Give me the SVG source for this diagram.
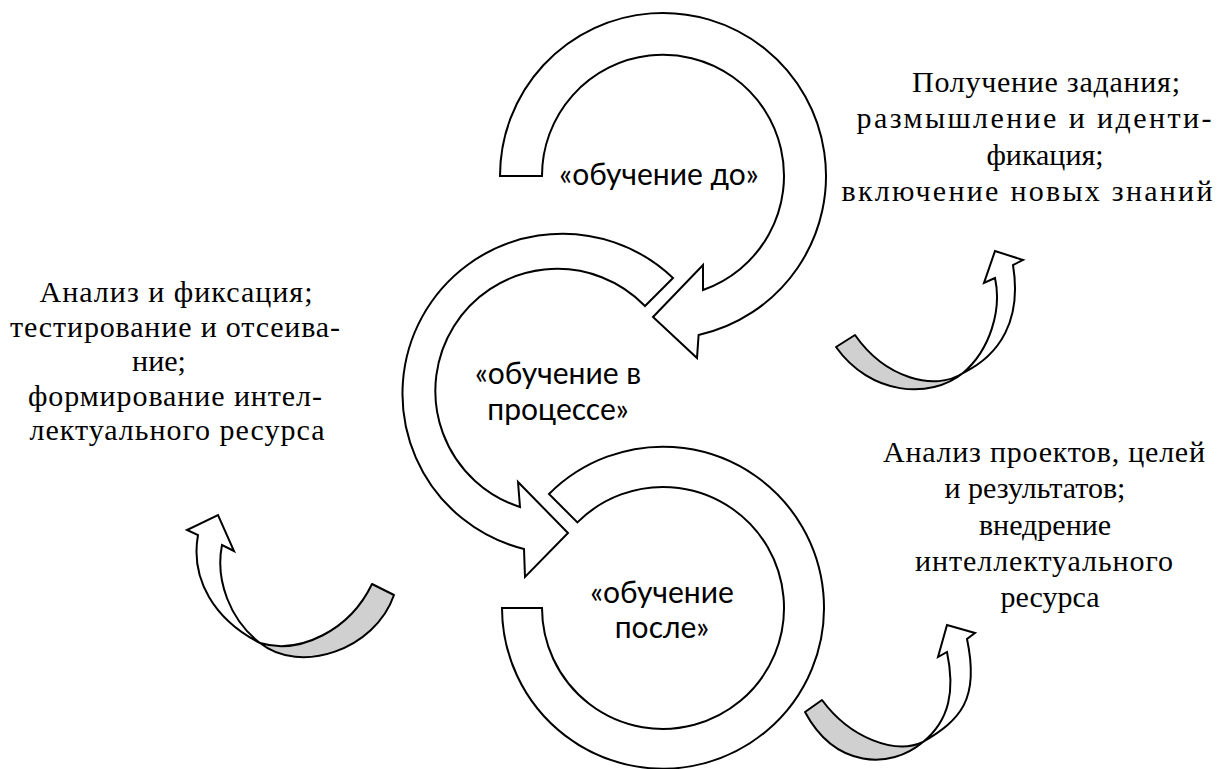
<svg xmlns="http://www.w3.org/2000/svg" width="1222" height="769" viewBox="0 0 1222 769">
<style>
.ring{fill:#ffffff;stroke:#000000;stroke-width:2;stroke-linejoin:miter}
.grey{fill:#d0d0d0;stroke:#000000;stroke-width:2;stroke-linejoin:round}
.white{fill:#ffffff;stroke:#000000;stroke-width:2;stroke-linejoin:miter}
.lbl{font-family:Lato,"Open Sans",sans-serif;font-size:30px;fill:#000000;text-anchor:middle}
.note{font-family:"Liberation Serif","Times New Roman",serif;font-size:30px;fill:#000000;text-anchor:middle}
</style>
<rect width="1222" height="769" fill="#ffffff"/>

<g id="node-before">
<path class="ring" d="M542,176 L500,176 A163,163 0 1 1 698.6,335 L697,358 L653,317 L703,265 L703,290 A121,121 0 1 0 542,176 Z"/>
<text class="lbl" x="659" y="185">«обучение до»</text>
</g>

<g id="node-during">
<path class="ring" d="M673,278 A160,160 0 1 0 524,549 L525,577 L568,533 L518,482 L520,507 A122,122 0 1 1 645,306 Z"/>
<text class="lbl" x="558" y="384">«обучение в</text>
<text class="lbl" x="558" y="420">процессе»</text>
</g>

<g id="node-after">
<path class="ring" d="M549,494 A161,161 0 1 1 502,608 L542,608 A121,121 0 1 0 577.4,522.4 Z"/>
<text class="lbl" x="662" y="603">«обучение</text>
<text class="lbl" x="662" y="638">после»</text>
</g>

<g id="note-before">
<text class="note" x="1046" y="92" textLength="268" lengthAdjust="spacing">Получение задания;</text>
<text class="note" x="1034" y="128" textLength="355" lengthAdjust="spacing">размышление и иденти-</text>
<text class="note" x="1045" y="165">фикация;</text>
<text class="note" x="1027" y="201" textLength="371" lengthAdjust="spacing">включение новых знаний</text>
</g>

<g id="note-during">
<text class="note" x="176" y="302" textLength="273" lengthAdjust="spacing">Анализ и фиксация;</text>
<text class="note" x="175" y="337" textLength="330" lengthAdjust="spacing">тестирование и отсеива-</text>
<text class="note" x="159" y="371">ние;</text>
<text class="note" x="175" y="406" textLength="294" lengthAdjust="spacing">формирование интел-</text>
<text class="note" x="177" y="440" textLength="295" lengthAdjust="spacing">лектуального ресурса</text>
</g>

<g id="note-after">
<text class="note" x="1044" y="462" textLength="322" lengthAdjust="spacing">Анализ проектов, целей</text>
<text class="note" x="1035" y="498">и результатов;</text>
<text class="note" x="1045" y="535">внедрение</text>
<text class="note" x="1044" y="571" textLength="258" lengthAdjust="spacing">интеллектуального</text>
<text class="note" x="1050" y="607">ресурса</text>
</g>

<g id="connectors">
<g id="curve-before">
<path class="grey" d="M836,347 L855,335 C885,378 935,392 963,373 C930,400 870,395 836,347 Z"/>
<path class="white" d="M963,373 C1000,355 1022,320 1013,265 L1023,260 L995,251 L984,283 L995,278 C1002,310 990,350 963,373 Z"/>
</g>
<g id="curve-during">
<path class="grey" d="M394,595 L372,584 C350,630 300,655 260,643 C300,675 375,650 394,595 Z"/>
<path class="white" d="M260,643 C215,620 190,580 198,535 L187,530 L218,515 L234,551 L222,545 C215,580 230,620 260,643 Z"/>
</g>
<g id="curve-after">
<path class="grey" d="M805,712 L822,700 C850,738 895,755 923,742 C890,770 835,768 805,712 Z"/>
<path class="white" d="M923,742 C960,720 980,700 967,639 L975,633 L947,625 L938,657 L947,652 C955,690 950,720 923,742 Z"/>
</g>
</g>
</svg>
